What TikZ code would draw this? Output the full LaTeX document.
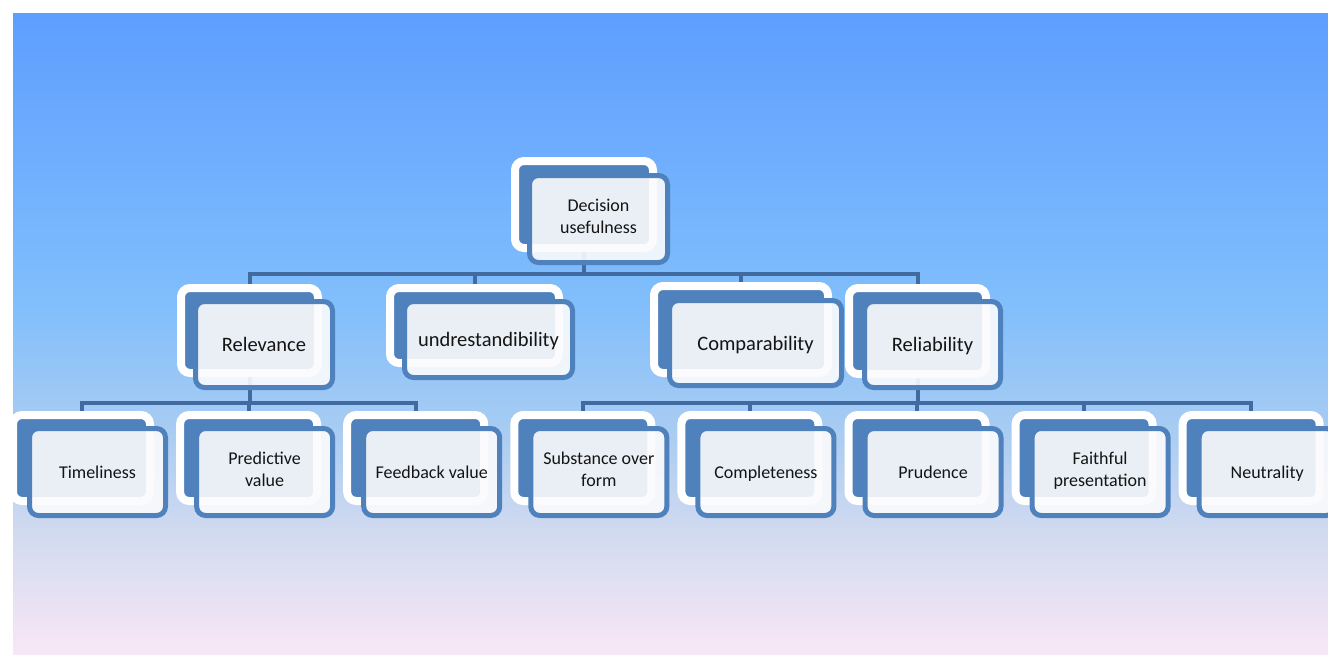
\documentclass[tikz,border=0pt]{standalone}
\usepackage{fontspec}
\setmainfont{Carlito}
\newcommand\qstrut{\rule[-0.3em]{0pt}{1.3em}}
\newcommand\qtallstrut{\rule{0pt}{1.58em}}
\definecolor{accent}{RGB}{79,129,189}
\definecolor{conn}{RGB}{65,106,160}
\definecolor{frontfill}{RGB}{251,251,253}
\definecolor{bgA}{RGB}{94,158,255}
\definecolor{bgB}{RGB}{128,190,252}
\definecolor{bgC}{RGB}{168,204,242}
\definecolor{bgD}{RGB}{212,219,240}
\definecolor{bgE}{RGB}{248,231,246}
\pgfdeclareverticalshading{bgshade}{100bp}{color(0bp)=(bgE); color(25bp)=(bgE); color(33.9bp)=(bgD); color(42.5bp)=(bgC); color(52.6bp)=(bgB); color(75bp)=(bgA); color(100bp)=(bgA)}
\pgfdeclarelayer{bottom}
\pgfdeclarelayer{links}
\pgfdeclarelayer{backs}
\pgfsetlayers{bottom,links,backs,main}
\tikzset{
  backbox/.style={rectangle, rounded corners=9pt, draw=white, line width=8pt, fill=accent, inner sep=0pt, outer sep=0pt},
  frontbase/.style={rectangle, rounded corners=9pt, draw=accent, line width=5pt, fill=frontfill, fill opacity=0.9, draw opacity=1, text opacity=1, inner sep=0pt, outer sep=0pt, align=center, text=black!92},
  frontbox/.style={frontbase, execute at begin node=\qstrut, execute at end node=\qstrut},
  frontboxtwo/.style={frontbase, execute at begin node=\qtallstrut, execute at end node=\qstrut},
  big/.style={font=\fontsize{20.5}{24}\selectfont},
  small/.style={font=\fontsize{18}{21.5}\selectfont},
  conline/.style={draw=conn, line width=4pt}
}
\begin{document}
\begin{tikzpicture}[x=1pt,y=-1pt]
\useasboundingbox (0,0) rectangle (1328,654);
\begin{pgfonlayer}{bottom}
\fill[shading=bgshade] (13,13) rectangle (1328,654);
\end{pgfonlayer}
\coordinate (bus1) at (0,274);
\coordinate (bus2) at (0,403);
\begin{pgfonlayer}{backs}
\node[backbox, minimum width=138pt, minimum height=87pt] (decB) at (584,204.5) {};
\node[backbox, minimum width=137pt, minimum height=85pt] (relB) at (249.5,330.5) {};
\node[backbox, minimum width=169pt, minimum height=75pt] (undB) at (474.5,325.5) {};
\node[backbox, minimum width=174pt, minimum height=87pt] (comB) at (741,329.5) {};
\node[backbox, minimum width=137pt, minimum height=86pt] (rliB) at (917.5,331) {};
\foreach \k/\nm in {0/timB,1/preB,2/feeB,3/subB,4/cplB,5/pruB,6/faiB,7/neuB}{
  \node[backbox, minimum width=137pt, minimum height=86pt] (\nm) at ({81.5+167.1*\k},458) {};
}
\end{pgfonlayer}
\node[frontboxtwo, small, minimum width=138pt, minimum height=87pt] (dec) at (598.5,219) {Decision\\usefulness};
\node[frontbox, big, minimum width=137pt, minimum height=86pt] (rel) at (264,344.5) {Relevance};
\node[frontbox, big, minimum width=168pt, minimum height=76pt] (und) at (488.5,339.5) {undrestandibility};
\node[frontbox, big, minimum width=172pt, minimum height=85pt] (com) at (755.5,343) {Comparability};
\node[frontbox, big, minimum width=136pt, minimum height=86pt] (rli) at (932.5,344.5) {Reliability};
\foreach \k/\nm/\txt/\sty in {0/tim/Timeliness/frontbox,1/pre/Predictive\\value/frontboxtwo,2/fee/Feedback value/frontbox,3/sub/Substance over\\form/frontboxtwo,4/cpl/Completeness/frontbox,5/pru/Prudence/frontbox,6/fai/Faithful\\presentation/frontboxtwo,7/neu/Neutrality/frontbox}{
  \node[\sty, small, minimum width=136pt, minimum height=87pt] (\nm) at ({97.5+167.1*\k},472) {\txt};
}
\begin{pgfonlayer}{links}
\draw[conline] (decB.center) -- (decB.center |- bus1) -| (relB.center);
\draw[conline] (decB.center |- bus1) -| (undB.center);
\draw[conline] (decB.center |- bus1) -| (comB.center);
\draw[conline] (decB.center |- bus1) -| (rliB.center);
\draw[conline] (relB.center) -- (relB.center |- bus2) -| (timB.center);
\draw[conline] (relB.center |- bus2) -| (preB.center);
\draw[conline] (relB.center |- bus2) -| (feeB.center);
\draw[conline] (rliB.center) -- (rliB.center |- bus2) -| (subB.center);
\draw[conline] (rliB.center |- bus2) -| (cplB.center);
\draw[conline] (rliB.center |- bus2) -| (pruB.center);
\draw[conline] (rliB.center |- bus2) -| (faiB.center);
\draw[conline] (rliB.center |- bus2) -| (neuB.center);
\end{pgfonlayer}
\end{tikzpicture}
\end{document}
